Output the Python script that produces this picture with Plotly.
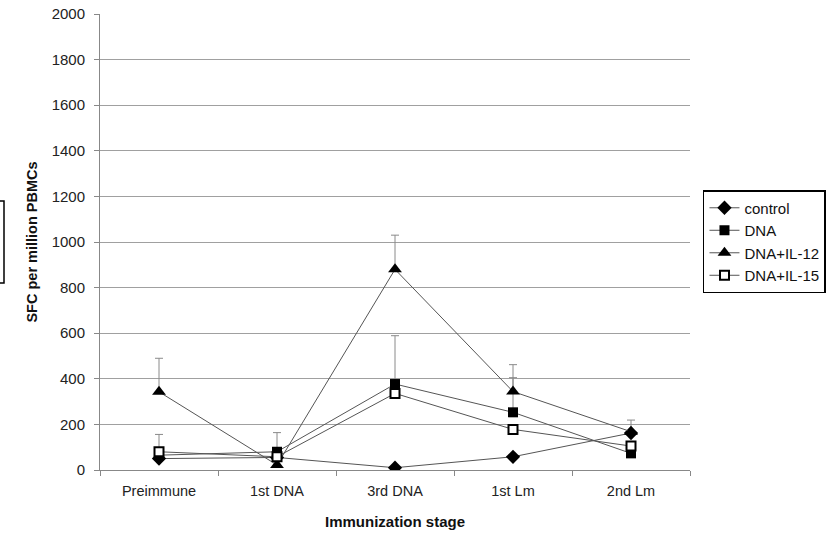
import plotly.graph_objects as go

stages = ["Preimmune", "1st DNA", "3rd DNA", "1st Lm", "2nd Lm"]

control = [50, 55, 10, 58, 162]
dna = [65, 80, 377, 253, 73]
dna_il12 = [343, 22, 880, 344, 168]
dna_il15 = [80, 58, 336, 178, 105]

err_control = [None, None, None, None, None]
err_dna = [None, 84, 212, 152, None]
err_il12 = [147, None, 150, 118, 51]
err_il15 = [76, None, None, None, None]

y_ticks = [0, 200, 400, 600, 800, 1000, 1200, 1400, 1600, 1800, 2000]

FONT = "Liberation Sans, Arial, sans-serif"
LINE_COL = "#555555"

def err(arr):
    return dict(type="data", symmetric=False, array=arr,
                arrayminus=[0 if v is not None else None for v in arr],
                color="#8a8a8a", thickness=1, width=4)

series = [
    ("control", control, err_control, dict(symbol="diamond", size=11, color="black")),
    ("DNA", dna, err_dna, dict(symbol="square", size=10, color="black")),
    ("DNA+IL-12", dna_il12, err_il12, dict(symbol="triangle-up", size=12, color="black")),
    ("DNA+IL-15", dna_il15, err_il15, dict(symbol="square", size=9, color="white",
                                          line=dict(color="black", width=2))),
]

fig = go.Figure()
for name, vals, e, mk in series:
    fig.add_trace(go.Scatter(
        x=stages, y=vals, name=name, mode="lines+markers",
        line=dict(color=LINE_COL, width=1),
        marker=mk,
        error_y=err(e),
    ))

fig.update_layout(
    width=835, height=537,
    margin=dict(l=100, r=145, t=14, b=67, autoexpand=False),
    paper_bgcolor="white", plot_bgcolor="white",
    font=dict(family=FONT, size=15, color="#222222"),
    showlegend=True,
    legend=dict(
        x=1.022, y=0.614, xanchor="left", yanchor="top",
        bordercolor="black", borderwidth=1.5,
        font=dict(family=FONT, size=15, color="#111111"),
        tracegroupgap=0, itemwidth=30,
    ),
    xaxis=dict(
        type="category", range=[-0.5, 4.5],
        tickson="boundaries", ticks="outside", ticklen=5, tickcolor="#888888",
        showline=True, linecolor="#888888", linewidth=1,
        showgrid=False,
        ticklabelstandoff=8,
        tickfont=dict(family=FONT, size=14.5, color="#222222"),
        title=dict(text="<b>Immunization stage</b>", standoff=18,
                   font=dict(family=FONT, size=15, color="#111111")),
    ),
    yaxis=dict(
        range=[0, 2000], tickvals=y_ticks,
        ticks="outside", ticklen=5, tickcolor="#888888",
        showline=True, linecolor="#888888", linewidth=1,
        showgrid=True, gridcolor="#a0a0a0", gridwidth=1,
        zeroline=False,
        ticklabelstandoff=6,
        tickfont=dict(family=FONT, size=15, color="#222222"),
        title=dict(text="<b>SFC per million PBMCs</b>", standoff=10,
                   font=dict(family=FONT, size=14.5, color="#111111")),
    ),
    shapes=[
        dict(type="rect", xref="paper", yref="paper",
             x0=(-20 - 100) / 590, x1=(4 - 100) / 590,
             y0=(470 - 283) / 456, y1=(470 - 201) / 456,
             line=dict(color="black", width=1.5), fillcolor="rgba(0,0,0,0)"),
    ],
)

fig.write_html("out.html")
